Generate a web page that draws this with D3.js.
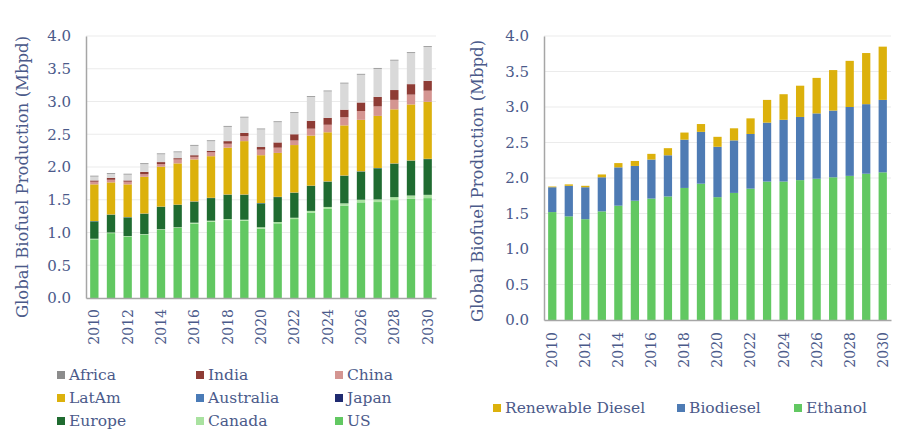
<!DOCTYPE html>
<html><head><meta charset="utf-8">
<script src="https://cdn.jsdelivr.net/npm/d3@7"></script>
<style>body{margin:0;background:#fff}svg{display:block}</style>
</head><body><svg id="c" width="900" height="439"></svg>
<script>
const years = d3.range(2010, 2031);
const yTicks = [0,0.5,1,1.5,2,2.5,3,3.5,4];
// Left chart: by region (Mbpd)
const us        = [0.895,0.99,0.935,0.965,1.04,1.07,1.135,1.165,1.19,1.18,1.06,1.14,1.205,1.305,1.36,1.41,1.46,1.465,1.495,1.515,1.525];
const canada    = [0.01,0.01,0.01,0.01,0.01,0.01,0.015,0.015,0.015,0.015,0.02,0.02,0.02,0.025,0.03,0.035,0.04,0.04,0.045,0.05,0.05];
const europe    = [0.265,0.27,0.285,0.31,0.34,0.34,0.32,0.345,0.37,0.38,0.365,0.38,0.38,0.38,0.385,0.42,0.43,0.475,0.51,0.53,0.545];
const japan     = [0.002,0.002,0.002,0.002,0.002,0.002,0.002,0.002,0.002,0.002,0.002,0.002,0.002,0.002,0.002,0.002,0.002,0.002,0.002,0.002,0.002];
const australia = [0.003,0.003,0.003,0.003,0.003,0.003,0.003,0.003,0.003,0.003,0.003,0.003,0.003,0.003,0.003,0.003,0.003,0.003,0.003,0.003,0.003];
const latam     = [0.56,0.49,0.50,0.56,0.61,0.63,0.64,0.635,0.715,0.815,0.73,0.67,0.725,0.765,0.75,0.765,0.785,0.795,0.825,0.855,0.87];
const china     = [0.04,0.04,0.04,0.04,0.04,0.06,0.04,0.06,0.06,0.075,0.085,0.08,0.07,0.105,0.115,0.125,0.135,0.145,0.145,0.15,0.17];
const india     = [0.02,0.03,0.02,0.035,0.03,0.02,0.025,0.02,0.04,0.05,0.04,0.08,0.095,0.12,0.105,0.115,0.13,0.145,0.15,0.16,0.15];
const other     = [0.06,0.06,0.09,0.12,0.12,0.09,0.145,0.15,0.22,0.235,0.27,0.31,0.325,0.365,0.405,0.40,0.425,0.43,0.45,0.475,0.52];
const africa    = [0.012,0.012,0.012,0.012,0.012,0.012,0.012,0.012,0.012,0.012,0.012,0.012,0.012,0.012,0.012,0.012,0.012,0.012,0.012,0.012,0.012];
// Right chart: by fuel (Mbpd)
const ethanol   = [1.52,1.46,1.42,1.53,1.61,1.68,1.71,1.74,1.86,1.92,1.73,1.79,1.85,1.95,1.95,1.97,1.99,2.01,2.03,2.06,2.08];
const biodiesel = [0.35,0.43,0.45,0.48,0.54,0.49,0.55,0.58,0.68,0.73,0.71,0.74,0.77,0.83,0.87,0.89,0.92,0.94,0.97,0.98,1.02];
const renewDiesel=[0.01,0.02,0.02,0.04,0.06,0.07,0.08,0.10,0.10,0.11,0.14,0.17,0.22,0.32,0.36,0.44,0.50,0.57,0.65,0.72,0.75];

const leftSeries = [
  {name:"US", values:us, color:"#62c862"},
  {name:"Canada", values:canada, color:"#a9e2a0"},
  {name:"Europe", values:europe, color:"#1f6b30"},
  {name:"Japan", values:japan, color:"#1f2a70"},
  {name:"Australia", values:australia, color:"#4a7bb7"},
  {name:"LatAm", values:latam, color:"#dcb10c"},
  {name:"China", values:china, color:"#d49591"},
  {name:"India", values:india, color:"#8e3c35"},
  {name:"Other", values:other, color:"#d9d9d9", noLegend:true},
  {name:"Africa", values:africa, color:"#8c8c8c"}
];
const rightSeries = [
  {name:"Ethanol", values:ethanol, color:"#62c862"},
  {name:"Biodiesel", values:biodiesel, color:"#4e7bb4"},
  {name:"Renewable Diesel", values:renewDiesel, color:"#dcb10c"}
];

const FONT = "DejaVu Serif";
const TXT = "#4b5a8a";
const svg = d3.select("#c");

function drawChart(series, o) {
  const g = svg.append("g");
  const x = d3.scaleBand().domain(years).range([o.x0, o.x1]).paddingInner(0.5).paddingOuter(0.25);
  const y = d3.scaleLinear().domain([0,4]).range([o.y0, o.y1]);
  // gridlines
  g.append("g").selectAll("line").data(yTicks.filter(d=>d>0)).join("line")
    .attr("x1", o.x0).attr("x2", o.x1).attr("y1", d=>y(d)).attr("y2", d=>y(d))
    .attr("stroke", "#ebebeb").attr("stroke-width", 1);
  // stacks
  const table = years.map((yr,i)=>{const r={year:yr}; series.forEach(s=>r[s.name]=s.values[i]); return r;});
  const stack = d3.stack().keys(series.map(s=>s.name))(table);
  g.append("g").selectAll("g").data(stack).join("g")
    .attr("fill", (d,i)=>series[i].color)
    .selectAll("rect").data(d=>d).join("rect")
    .attr("x", d=>x(d.data.year)).attr("width", x.bandwidth())
    .attr("y", d=>y(d[1])).attr("height", d=>Math.max(0, y(d[0])-y(d[1])));
  // y axis
  const ya = g.append("g").attr("transform", `translate(${o.x0},0)`)
    .call(d3.axisLeft(y).tickValues(yTicks).tickFormat(d3.format(".1f")).tickSize(0).tickPadding(15));
  ya.select(".domain").attr("stroke", "#a6a6a6").attr("stroke-width", 1.5);
  ya.selectAll("text").attr("font-family", FONT).attr("font-size", 15).attr("fill", TXT);
  // x axis
  const xa = g.append("g").attr("transform", `translate(0,${o.y0})`)
    .call(d3.axisBottom(x).tickValues(years.filter(d=>d%2===0)).tickSize(0));
  xa.select(".domain").attr("stroke", "#a6a6a6").attr("stroke-width", 1.5);
  xa.selectAll("text").attr("font-family", FONT).attr("font-size", 14).attr("fill", TXT)
    .attr("transform", "rotate(-90)").attr("text-anchor", "end")
    .attr("x", -o.xlabGap).attr("y", 0).attr("dy", "0.35em");
  // y title
  g.append("text").attr("transform", `translate(${o.titleX},${(o.y0+o.y1)/2+o.titleDy}) rotate(-90)`)
    .attr("text-anchor", "middle").attr("font-family", FONT).attr("font-size", 16.5).attr("fill", TXT)
    .text("Global Biofuel Production (Mbpd)");
}

drawChart(leftSeries, {x0:86, x1:436, y0:298, y1:36, xlabGap:11, titleX:28, titleDy:10});
drawChart(rightSeries, {x0:544, x1:891, y0:320, y1:36, xlabGap:12, titleX:483, titleDy:3});

// left legend
const leftLegend = ["Africa","India","China","LatAm","Australia","Japan","Europe","Canada","US"]
  .map(n=>leftSeries.find(s=>s.name===n));
const lcols = [57,196,335], lrows = [375,398,421];
const ll = svg.append("g").selectAll("g").data(leftLegend).join("g")
  .attr("transform", (d,i)=>`translate(${lcols[i%3]},${lrows[Math.floor(i/3)]})`);
ll.append("rect").attr("x",0).attr("y",-4).attr("width",8).attr("height",8).attr("fill", d=>d.color);
ll.append("text").attr("x",12).attr("y",0).attr("dy","0.35em").attr("font-family",FONT).attr("font-size",15.5)
  .attr("fill",TXT).text(d=>d.name);

// right legend
const rightLegend = ["Renewable Diesel","Biodiesel","Ethanol"].map(n=>rightSeries.find(s=>s.name===n));
const rcols = [493,677,794];
const rl = svg.append("g").selectAll("g").data(rightLegend).join("g")
  .attr("transform", (d,i)=>`translate(${rcols[i]},408)`);
rl.append("rect").attr("x",0).attr("y",-4).attr("width",8).attr("height",8).attr("fill", d=>d.color);
rl.append("text").attr("x",12).attr("y",0).attr("dy","0.35em").attr("font-family",FONT).attr("font-size",15.5)
  .attr("fill",TXT).text(d=>d.name);
</script></body></html>
